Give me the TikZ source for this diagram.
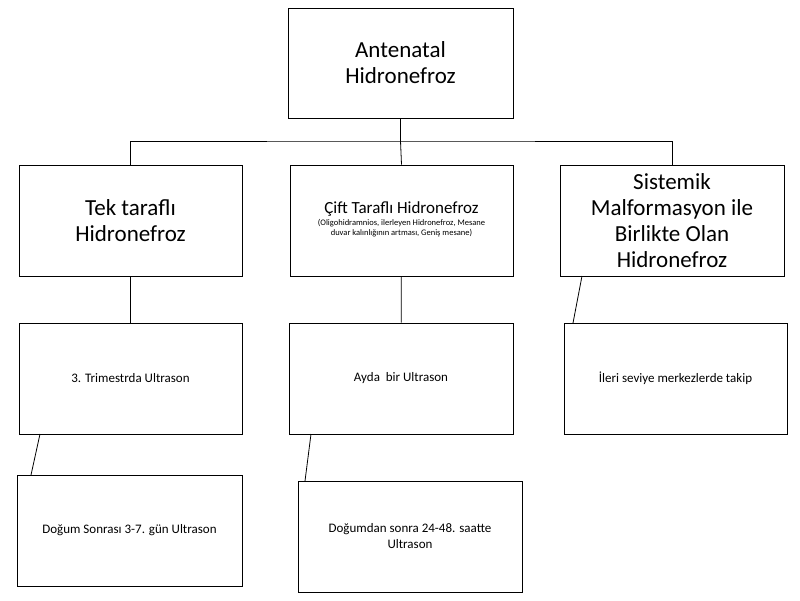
\documentclass[tikz,border=0pt]{standalone}
\usepackage{fontspec}
\setmainfont{Carlito}
\usetikzlibrary{positioning}
\tikzset{
    box/.style={draw, thick, align=center, inner sep=2pt}, % Styling for boxes
    big/.style={box, font=\fontsize{23}{26}\selectfont},
    small/.style={box, font=\fontsize{13}{16}\selectfont},
    link/.style={thick},
}
\begin{document}
\begin{tikzpicture}[x=1pt, y=-1pt]
    \useasboundingbox (0,0) rectangle (800,600);
    \node[big, minimum width=225pt, minimum height=110pt] (top) at (400.5,63) {Antenatal\\Hidronefroz};
    \node[big, minimum width=223pt, minimum height=111pt] (tek) at (130.5,220.5) {Tek taraflı\\Hidronefroz};
    \node[box, minimum width=223pt, minimum height=111pt] (cift) at (401.5,220.5) {};
    \node[align=center, font=\fontsize{17}{20}\selectfont] (ciftT) at (401.5,209) {Çift Taraflı Hidronefroz};
    \node[align=center, font=\fontsize{8.5}{10}\selectfont, below=-4pt of ciftT] (ciftA) {(Oligohidramnios, ilerleyen Hidronefroz, Mesane\\duvar kalınlığının artması, Geniş mesane)};
    \node[big, minimum width=224pt, minimum height=111pt] (sis) at (672,220.5) {Sistemik\\Malformasyon ile\\Birlikte Olan\\Hidronefroz};
    \node[small, minimum width=223pt, minimum height=111pt] (us1) at (130.5,378.5) {3. Trimestrda Ultrason};
    \node[small, minimum width=224pt, minimum height=111pt] (us2) at (401,378.5) {Ayda \ bir Ultrason};
    \node[small, minimum width=223pt, minimum height=111pt] (takip) at (675.5,378.5) {İleri seviye merkezlerde takip};
    \node[small, minimum width=225pt, minimum height=111pt] (dog1) at (129.5,530.5) {Doğum Sonrası 3-7. gün Ultrason};
    \node[small, minimum width=224pt, minimum height=111pt] (dog2) at (410,536.5) {Doğumdan sonra 24-48. saatte\\Ultrason};

    % tree lines
    \coordinate (bar) at (400.5,141);
    \draw[link] (top) -- (bar);
    \draw[link] (tek.north) |- (bar) -| (sis.north -| 672,0);
    \draw[link] (bar) -- (cift.north);
    \draw[link] (tek) -- (us1);
    \draw[link] (cift) -- (us2);

    % slanted links
    \coordinate (s1) at (582,276);
    \coordinate (e1) at (573,323);
    \coordinate (s2) at (40,434);
    \coordinate (e2) at (31,475);
    \coordinate (s3) at (311,434);
    \coordinate (e3) at (305,481);
    \draw[link] (s1) -- (e1);
    \draw[link] (s2) -- (e2);
    \draw[link] (s3) -- (e3);
\end{tikzpicture}
\end{document}
